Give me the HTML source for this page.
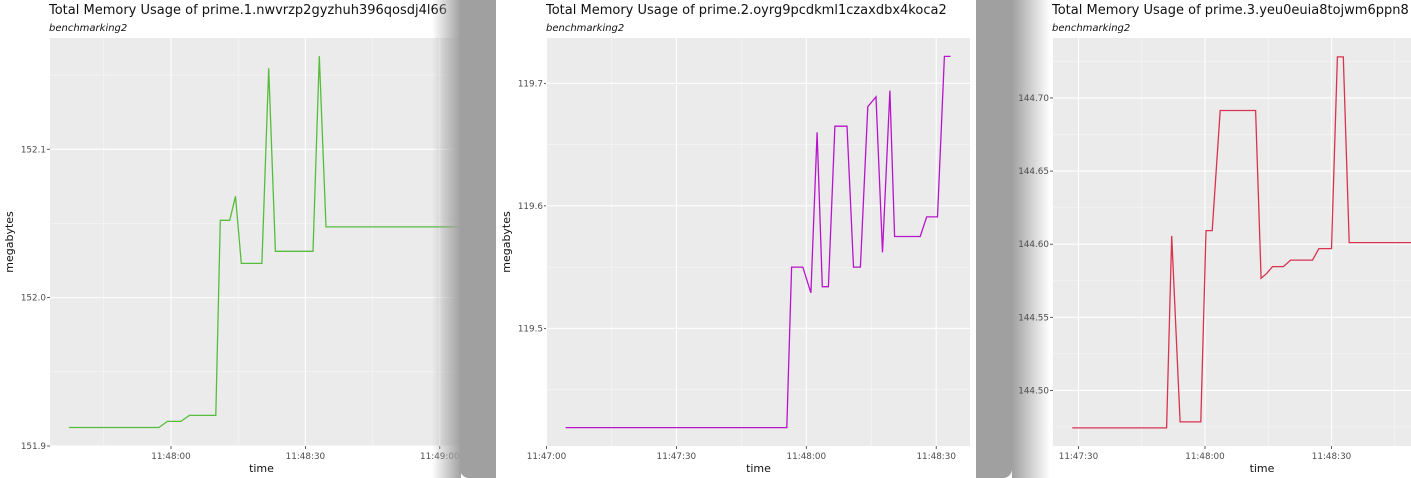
<!DOCTYPE html>
<html><head><meta charset="utf-8">
<style>
html,body{margin:0;padding:0;background:#fff;}
svg{display:block;font-family:"DejaVu Sans","Liberation Sans",sans-serif;}
</style></head>
<body>
<svg id="chart" width="1411" height="478" viewBox="0 0 1411 478" xmlns="http://www.w3.org/2000/svg">
<defs>
<linearGradient id="fadeL" x1="0" x2="1" y1="0" y2="0"><stop offset="0" stop-color="#a0a0a0" stop-opacity="0"/><stop offset="1" stop-color="#a0a0a0" stop-opacity="1"/></linearGradient>
<linearGradient id="fadeR" x1="0" x2="1" y1="0" y2="0"><stop offset="0" stop-color="#a0a0a0" stop-opacity="1"/><stop offset="1" stop-color="#a0a0a0" stop-opacity="0"/></linearGradient>
</defs>
<g id="layer"></g>
</svg>
<script>
// Panel 1 data (seconds relative to 11:48:00)
const p1Times = [-22.8,-2.7,-0.8,2.2,4.1,10.0,11.0,13.1,14.4,15.7,20.3,21.8,23.3,31.7,33.1,34.6,64.0];
const p1Values = [151.9125,151.9125,151.9166,151.9166,151.9206,151.9206,152.0521,152.0521,152.0683,152.0231,152.0231,152.1546,152.0312,152.0312,152.1627,152.0477,152.0477];
const p1YTicks = [151.9,152.0,152.1];
const p1YLabels = ["151.9","152.0","152.1"];
const p1XTicks = [0,30,60];
const p1XLabels = ["11:48:00","11:48:30","11:49:00"];
// Panel 2 data
const p2Times = [-55.6,-4.5,-3.4,-0.8,1.06,2.5,3.7,5.1,6.6,9.4,10.9,12.5,14.2,16.1,17.6,19.3,20.4,26.3,27.8,30.3,31.9,33.3];
const p2Values = [119.419,119.419,119.550,119.550,119.529,119.660,119.534,119.534,119.665,119.665,119.550,119.550,119.681,119.689,119.562,119.694,119.575,119.575,119.591,119.591,119.722,119.722];
const p2YTicks = [119.5,119.6,119.7];
const p2YLabels = ["119.5","119.6","119.7"];
const p2XTicks = [-60,-30,0,30];
const p2XLabels = ["11:47:00","11:47:30","11:48:00","11:48:30"];
// Panel 3 data
const p3Times = [-31.5,-9.1,-7.9,-5.9,-1.0,0.24,1.7,3.6,12.0,13.3,14.6,16.0,18.6,20.3,25.5,27.0,30.0,31.4,32.8,34.2,50];
const p3Values = [144.4744,144.4744,144.6057,144.4785,144.4785,144.6093,144.6093,144.6914,144.6914,144.5767,144.5799,144.5847,144.5847,144.5891,144.5891,144.597,144.597,144.7281,144.7281,144.6011,144.6011];
const p3YTicks = [144.50,144.55,144.60,144.65,144.70];
const p3YLabels = ["144.50","144.55","144.60","144.65","144.70"];
const p3XTicks = [-30,0,30];
const p3XLabels = ["11:47:30","11:48:00","11:48:30"];

const NS="http://www.w3.org/2000/svg";
const layer=document.getElementById('layer');
function mk(tag,attrs,parent){const e=document.createElementNS(NS,tag);for(const k in attrs)e.setAttribute(k,attrs[k]);(parent||layer).appendChild(e);return e;}

function panel(cfg){
  const g=mk('g',{});
  
  
  const top=38,bot=446;
  const sx=t=>cfg.x0+(t-cfg.t0)*cfg.pxs;
  const sy=v=>bot-(v-cfg.vmin)/(cfg.vmax-cfg.vmin)*(bot-top);
  const bg=mk('rect',{x:cfg.left,y:top,width:cfg.right-cfg.left,height:bot-top,fill:'#ebebeb'},g);
  
  
  const ystep=cfg.yTicks[1]-cfg.yTicks[0];
  for(let v=cfg.yTicks[0]-ystep*3.5;v<cfg.vmax;v+=ystep){const y=sy(v);if(y>top&&y<bot){mk('line',{x1:cfg.left,x2:cfg.right,y1:y,y2:y,stroke:'#f7f7f7','stroke-width':0.6},g);}}
  for(let t=cfg.xTicks[0]-45;t<200;t+=30){const x=sx(t);if(x>cfg.left&&x<cfg.right){mk('line',{x1:x,x2:x,y1:top,y2:bot,stroke:'#f7f7f7','stroke-width':0.6},g);}}
  cfg.yTicks.forEach((v,i)=>{const y=sy(v);
    const gl=mk('line',{x1:cfg.left,x2:cfg.right,y1:y,y2:y,stroke:'#fff','stroke-width':1.1},g);
    
    
    mk('line',{x1:cfg.left-3,x2:cfg.left,y1:y,y2:y,stroke:'#333','stroke-width':0.8},g);
    const tx=mk('text',{x:cfg.left-4,y:y+3,'text-anchor':'end','font-size':8.8,fill:'#4d4d4d'},g);
    tx.textContent=cfg.yLabels[i];
    
    
  });
  cfg.xTicks.forEach((t,i)=>{const x=sx(t);
    const gl=mk('line',{x1:x,x2:x,y1:top,y2:bot,stroke:'#fff','stroke-width':1.1},g);
    
    
    mk('line',{x1:x,x2:x,y1:bot,y2:bot+3,stroke:'#333','stroke-width':0.8},g);
    const tx=mk('text',{x:x,y:bot+13,'text-anchor':'middle','font-size':8.8,fill:'#4d4d4d'},g);
    tx.textContent=cfg.xLabels[i];
    
    
  });
  const d=cfg.times.map((t,i)=>(i?'L':'M')+sx(t).toFixed(1)+','+sy(cfg.values[i]).toFixed(1)).join(' ');
  const cp=mk('clipPath',{id:cfg.name+'-clip'},g);mk('rect',{x:cfg.left,y:top,width:cfg.right-cfg.left,height:bot-top},cp);
  const ln=mk('path',{d:d,fill:'none',stroke:cfg.color,'stroke-width':1.3,'clip-path':'url(#'+cfg.name+'-clip)'},g);
  
  
  const ti=mk('text',{x:cfg.left-1,y:14,'font-size':13,fill:'#111'},g);ti.textContent=cfg.title;
  
  
  const st=mk('text',{x:cfg.left-1,y:31,'font-size':10,'font-style':'italic',fill:'#111'},g);st.textContent='benchmarking2';
  
  
  const xt=mk('text',{x:(cfg.left+Math.min(cfg.right,1411))/2+(cfg.xTitleShift||0),y:472,'text-anchor':'middle','font-size':11,fill:'#111'},g);xt.textContent='time';
  
  
  if(cfg.yTitleX){const yt=mk('text',{x:cfg.yTitleX,y:242,'text-anchor':'middle','font-size':11,fill:'#111',transform:'rotate(-90 '+cfg.yTitleX+' 242)'},g);yt.textContent='megabytes';
    
    }
}

panel({name:'panel-prime-1',title:'Total Memory Usage of prime.1.nwvrzp2gyzhuh396qosdj4l66',left:50,right:463,x0:171,t0:0,pxs:4.48,vmin:151.9,vmax:152.175,times:p1Times,values:p1Values,yTicks:p1YTicks,yLabels:p1YLabels,xTicks:p1XTicks,xLabels:p1XLabels,color:'#56bd3c',yTitleX:13,xTitleShift:5});
mk('rect',{x:432,y:0,width:29,height:478,fill:'url(#fadeL)'});
const frame=mk('rect',{x:460,y:-10,width:552,height:488,rx:9,fill:'#a0a0a0'});


mk('rect',{x:1012,y:0,width:38,height:478,fill:'url(#fadeR)'});
mk('rect',{x:496,y:0,width:480,height:478,fill:'#fff'});
panel({name:'panel-prime-2',title:'Total Memory Usage of prime.2.oyrg9pcdkml1czaxdbx4koca2',left:547,right:970,x0:806.3,t0:0,pxs:4.33,vmin:119.404,vmax:119.737,times:p2Times,values:p2Values,yTicks:p2YTicks,yLabels:p2YLabels,xTicks:p2XTicks,xLabels:p2XLabels,color:'#b814cc',yTitleX:510,xTitleShift:0});
panel({name:'panel-prime-3',title:'Total Memory Usage of prime.3.yeu0euia8tojwm6ppn8',left:1053,right:1420,x0:1205,t0:0,pxs:4.217,vmin:144.462,vmax:144.741,times:p3Times,values:p3Values,yTicks:p3YTicks,yLabels:p3YLabels,xTicks:p3XTicks,xLabels:p3XLabels,color:'#d8334f',yTitleX:0,xTitleShift:30});
</script>
</body></html>
